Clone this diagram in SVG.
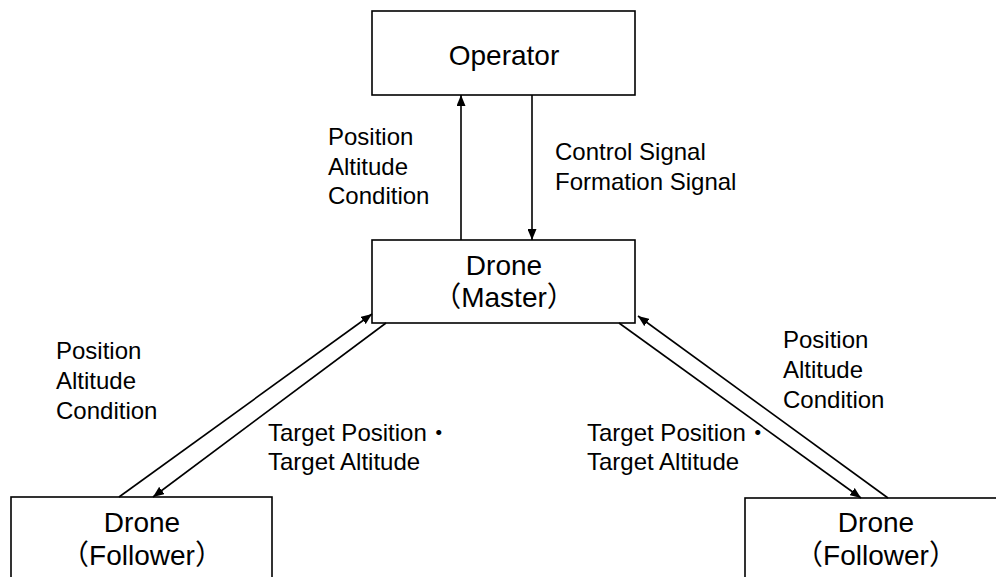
<svg xmlns="http://www.w3.org/2000/svg" width="996" height="577" viewBox="0 0 996 577">
  <style>
    .box { fill: #ffffff; stroke: #000000; stroke-width: 1.6; }
    .main { font-family: "Liberation Sans", "Noto Sans CJK JP", sans-serif; font-size: 28px; text-anchor: middle; fill: #000000; }
    .lbl { font-family: "Liberation Sans", "Noto Sans CJK JP", sans-serif; font-size: 24px; fill: #000000; }
    .conn { stroke: #000000; stroke-width: 1.6; fill: none; marker-end: url(#arrow); }
  </style>
  <defs>
    <marker id="arrow" markerUnits="userSpaceOnUse" markerWidth="11" markerHeight="9" refX="11" refY="4.5" orient="auto">
      <path d="M0,0 L11,4.5 L0,9 z" fill="#000000"/>
    </marker>
  </defs>
  <rect width="996" height="577" fill="#ffffff"/>

  <g id="operator">
    <rect class="box" x="372" y="11" width="263" height="84"/>
    <text class="main" x="504" y="65">Operator</text>
  </g>
  <g id="master">
    <rect class="box" x="372" y="240" width="263" height="83"/>
    <text class="main" x="504" y="275">Drone</text>
    <text class="main" x="504" y="307">（Master）</text>
  </g>
  <g id="follower-left">
    <rect class="box" x="11" y="497" width="261" height="100"/>
    <text class="main" x="142" y="532">Drone</text>
    <text class="main" x="142" y="565">（Follower）</text>
  </g>
  <g id="follower-right">
    <rect class="box" x="745" y="498" width="262" height="100"/>
    <text class="main" x="876" y="532">Drone</text>
    <text class="main" x="876" y="565">（Follower）</text>
  </g>

  <g id="connectors">
    <line class="conn" x1="461" y1="240" x2="461" y2="95"/>
    <line class="conn" x1="532" y1="95" x2="532" y2="240"/>
    <line class="conn" x1="119" y1="497" x2="372" y2="314"/>
    <line class="conn" x1="386" y1="323" x2="153" y2="497"/>
    <line class="conn" x1="888" y1="498" x2="638" y2="316"/>
    <line class="conn" x1="619" y1="323" x2="861" y2="498"/>
  </g>

  <g id="labels">
    <text class="lbl" x="328" y="145">Position</text>
    <text class="lbl" x="328" y="175">Altitude</text>
    <text class="lbl" x="328" y="204">Condition</text>

    <text class="lbl" x="555" y="160">Control Signal</text>
    <text class="lbl" x="555" y="190">Formation Signal</text>

    <text class="lbl" x="56" y="359">Position</text>
    <text class="lbl" x="56" y="389">Altitude</text>
    <text class="lbl" x="56" y="419">Condition</text>

    <text class="lbl" x="268" y="441">Target Position・</text>
    <text class="lbl" x="268" y="470">Target Altitude</text>

    <text class="lbl" x="587" y="441">Target Position・</text>
    <text class="lbl" x="587" y="470">Target Altitude</text>

    <text class="lbl" x="783" y="348">Position</text>
    <text class="lbl" x="783" y="378">Altitude</text>
    <text class="lbl" x="783" y="408">Condition</text>
  </g>
</svg>
